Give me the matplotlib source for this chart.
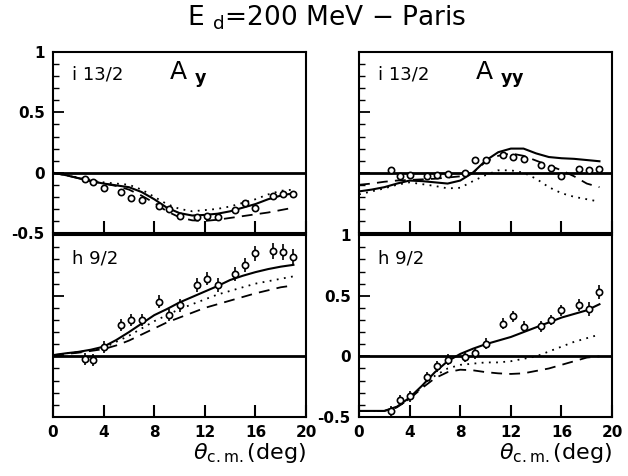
import matplotlib
matplotlib.use("Agg")
import matplotlib.pyplot as plt
from matplotlib.ticker import MultipleLocator, FixedLocator

# ---- data ----
theta_exp = [2.5, 3.2, 4.0, 5.4, 6.2, 7.0, 8.4, 9.2, 10.0, 11.4, 12.2, 13.0,
             14.4, 15.2, 16.0, 17.4, 18.2, 19.0]
theta_th = list(range(0, 20))

# i 13/2, A_y
ay_i_exp = [-0.05, -0.08, -0.13, -0.16, -0.21, -0.225, -0.28, -0.30, -0.36, -0.365,
            -0.36, -0.365, -0.31, -0.25, -0.29, -0.19, -0.18, -0.18]
ay_i_err = [0.015, 0.015, 0.02, 0.015, 0.015, 0.02, 0.02, 0.02, 0.02, 0.02,
            0.025, 0.025, 0.02, 0.02, 0.02, 0.02, 0.02, 0.02]
ay_i_solid = [0.0, -0.02, -0.045, -0.07, -0.09, -0.105, -0.12, -0.16, -0.22, -0.29,
              -0.335, -0.355, -0.35, -0.34, -0.32, -0.29, -0.26, -0.22, -0.19, -0.17]
ay_i_dot = [0.0, -0.02, -0.04, -0.06, -0.08, -0.09, -0.10, -0.14, -0.20, -0.26,
            -0.30, -0.32, -0.31, -0.30, -0.28, -0.25, -0.22, -0.18, -0.15, -0.14]
ay_i_dash = [0.0, -0.02, -0.045, -0.07, -0.09, -0.11, -0.14, -0.19, -0.25, -0.32,
             -0.37, -0.395, -0.40, -0.39, -0.375, -0.36, -0.345, -0.33, -0.31, -0.29]

# i 13/2, A_yy
ayy_i_exp = [0.02, -0.03, -0.017, -0.03, -0.017, -0.014, 0.0, 0.105, 0.105, 0.15,
             0.13, 0.11, 0.068, 0.04, -0.03, 0.03, 0.025, 0.034]
ayy_i_err = [0.02] * 18
ayy_i_solid = [-0.155, -0.14, -0.12, -0.09, -0.065, -0.07, -0.08, -0.09, -0.065, 0.0,
               0.10, 0.17, 0.20, 0.20, 0.16, 0.13, 0.12, 0.115, 0.105, 0.095]
ayy_i_dot = [-0.18, -0.155, -0.13, -0.10, -0.08, -0.095, -0.11, -0.13, -0.125, -0.07,
             -0.02, 0.02, 0.02, 0.0, -0.05, -0.12, -0.17, -0.20, -0.22, -0.24]
ayy_i_dash = [-0.10, -0.09, -0.075, -0.065, -0.06, -0.055, -0.05, -0.04, -0.03, 0.0,
              0.09, 0.14, 0.16, 0.14, 0.10, 0.06, 0.02, -0.03, -0.09, -0.12]

# h 9/2, A_y
ay_h_exp = [-0.025, -0.028, 0.08, 0.26, 0.30, 0.30, 0.45, 0.34, 0.42, 0.59,
            0.64, 0.59, 0.68, 0.755, 0.85, 0.87, 0.86, 0.82]
ay_h_err = [0.05, 0.05, 0.05, 0.05, 0.05, 0.05, 0.055, 0.05, 0.05, 0.055,
            0.055, 0.06, 0.055, 0.055, 0.06, 0.065, 0.065, 0.065]
ay_h_solid = [0.01, 0.025, 0.037, 0.055, 0.08, 0.135, 0.20, 0.27, 0.34, 0.39,
              0.445, 0.49, 0.535, 0.58, 0.63, 0.665, 0.695, 0.72, 0.74, 0.755]
ay_h_dot = [0.01, 0.025, 0.035, 0.05, 0.07, 0.12, 0.17, 0.23, 0.29, 0.34,
            0.39, 0.43, 0.47, 0.51, 0.54, 0.57, 0.60, 0.62, 0.64, 0.66]
ay_h_dash = [0.01, 0.02, 0.03, 0.045, 0.06, 0.09, 0.13, 0.18, 0.23, 0.28,
             0.32, 0.36, 0.40, 0.43, 0.46, 0.49, 0.52, 0.545, 0.57, 0.585]

# h 9/2, A_yy
ayy_h_exp = [-0.45, -0.36, -0.33, -0.17, -0.08, -0.027, -0.005, 0.027, 0.104, 0.27,
             0.33, 0.245, 0.25, 0.30, 0.38, 0.425, 0.39, 0.53]
ayy_h_err = [0.04, 0.04, 0.045, 0.045, 0.045, 0.045, 0.045, 0.045, 0.045, 0.045,
             0.045, 0.045, 0.045, 0.045, 0.045, 0.05, 0.06, 0.06]
ayy_h_solid = [-0.45, -0.45, -0.45, -0.415, -0.34, -0.24, -0.13, -0.04, 0.02, 0.063,
               0.10, 0.13, 0.16, 0.20, 0.24, 0.28, 0.32, 0.35, 0.38, 0.43]
ayy_h_dot = [-0.45, -0.45, -0.45, -0.42, -0.35, -0.25, -0.16, -0.10, -0.07, -0.06,
             -0.05, -0.05, -0.04, -0.02, 0.0, 0.04, 0.08, 0.12, 0.15, 0.18]
ayy_h_dash = [-0.45, -0.45, -0.45, -0.42, -0.35, -0.26, -0.18, -0.13, -0.11, -0.115,
              -0.13, -0.14, -0.145, -0.14, -0.12, -0.10, -0.07, -0.04, -0.01, 0.0]

y_ticks = [-0.5, 0, 0.5, 1]
y_ticklabels = ["-0.5", "0", "0.5", "1"]
x_ticks = [0, 4, 8, 12, 16, 20]


def setup_axis(ax, show_x, show_y):
    ax.set_xlim(0, 20)
    ax.set_ylim(-0.5, 1)
    ax.axhline(0, color="black", lw=2.0, zorder=1)
    for s in ax.spines.values():
        s.set_linewidth(1.5)
    ax.xaxis.set_major_locator(FixedLocator(x_ticks))
    ax.yaxis.set_major_locator(FixedLocator(y_ticks))
    ax.yaxis.set_minor_locator(MultipleLocator(0.1))
    ax.tick_params(axis="x", which="major", direction="in", length=9, width=1.5,
                   bottom=True, top=False, labelbottom=show_x, labelsize=11, pad=6)
    ax.tick_params(axis="y", which="major", direction="in", length=8, width=1.3,
                   left=True, right=False, labelleft=show_y, labelsize=11, pad=6)
    ax.tick_params(axis="y", which="minor", direction="in", length=4, width=1.0,
                   left=True, right=False)
    if show_y:
        ax.set_yticklabels(y_ticklabels, fontweight="bold")
    if show_x:
        ax.set_xticklabels([str(t) for t in x_ticks], fontweight="bold")


def draw_panel(ax, exp, err, solid, dot, dash):
    ax.plot(theta_th, solid, color="black", lw=1.5, zorder=3)
    ax.plot(theta_th, dot, color="black", lw=1.3, linestyle=(0, (1, 3)), zorder=3)
    ax.plot(theta_th, dash, color="black", lw=1.3, linestyle=(0, (6, 4)), zorder=3)
    ax.errorbar(theta_exp, exp, yerr=err, fmt="o", ms=4.5, mfc="white", mec="black",
                mew=1.2, ecolor="black", elinewidth=1.2, capsize=0, zorder=4)


fig = plt.figure(figsize=(6.28, 4.76), dpi=100)

ax_tl = fig.add_axes([0.0844, 0.5105, 0.403, 0.380])
ax_tr = fig.add_axes([0.5717, 0.5105, 0.403, 0.380])
ax_bl = fig.add_axes([0.0844, 0.124, 0.403, 0.382])
ax_br = fig.add_axes([0.5717, 0.124, 0.403, 0.382])

draw_panel(ax_tl, ay_i_exp, ay_i_err, ay_i_solid, ay_i_dot, ay_i_dash)
draw_panel(ax_tr, ayy_i_exp, ayy_i_err, ayy_i_solid, ayy_i_dot, ayy_i_dash)
draw_panel(ax_bl, ay_h_exp, ay_h_err, ay_h_solid, ay_h_dot, ay_h_dash)
draw_panel(ax_br, ayy_h_exp, ayy_h_err, ayy_h_solid, ayy_h_dot, ayy_h_dash)

setup_axis(ax_tl, False, True)
setup_axis(ax_tr, False, False)
setup_axis(ax_bl, True, False)
setup_axis(ax_br, True, True)

# panel labels
for ax in (ax_tl, ax_tr):
    ax.text(0.075, 0.875, "i 13/2", transform=ax.transAxes, fontsize=13,
            ha="left", va="center")
ax_tl.text(0.46, 0.875, r"A $_{\bf y}$", transform=ax_tl.transAxes, fontsize=18,
           ha="left", va="center")
ax_tr.text(0.46, 0.875, r"A $_{\bf yy}$", transform=ax_tr.transAxes, fontsize=18,
           ha="left", va="center")
for ax in (ax_bl, ax_br):
    ax.text(0.075, 0.87, "h 9/2", transform=ax.transAxes, fontsize=13,
            ha="left", va="center")

# x labels
for ax in (ax_bl, ax_br):
    ax.text(1.0, -0.13, r"$\theta_{\rm c.m.}$(deg)", transform=ax.transAxes,
            fontsize=16, ha="right", va="top")

fig.text(0.52, 0.962, r"E $_{\rm d}$=200 MeV $-$ Paris", fontsize=19,
         ha="center", va="center")

fig.savefig("out.png", dpi=100)
